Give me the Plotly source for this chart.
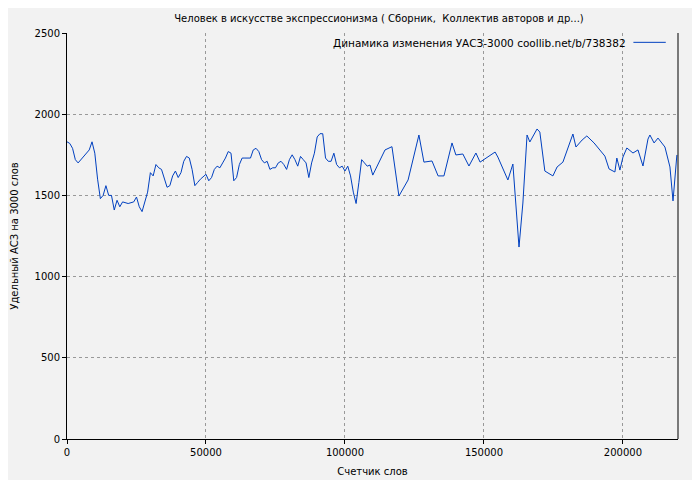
import plotly.graph_objects as go

# позиция в тысячах слов, значение УАСЗ
words_k = [0, 1, 2, 3, 4, 5, 6, 7, 8, 9, 10, 11, 12, 13, 14, 15, 16, 17, 18, 19, 20, 22, 24, 25, 26, 27, 28, 29,
           30, 31, 32, 33, 34, 35, 36, 37, 38, 39, 40, 41, 42, 43, 44, 45, 46, 47, 48, 50, 51, 52, 53, 54, 55, 56,
           57, 58, 59, 60, 61, 62, 63, 64, 66, 67, 68, 69, 70, 71, 72, 73, 74, 75, 76, 77, 78, 79, 80, 81, 82, 83,
           84, 85, 86, 87, 88, 89, 90, 91, 92, 93, 94, 95, 96, 97, 98, 99, 100, 101, 102, 103, 104, 105, 106, 107,
           108, 109,
           110, 114.4, 116.9, 119.4, 122.7, 126.6, 128.4, 131.3, 133.5, 135.6, 138.5, 139.9, 142.4, 144.6, 147.1,
           148.6, 154, 155, 158.6, 160.4, 162.6, 164, 165.5, 166.5, 169.1, 170.1, 171.9, 174.8, 176.3, 178.4, 180.2,
           182, 183.1, 185.3, 187, 189.6, 193.5, 195, 197.1, 197.8, 198.9, 200, 201.4, 203.6, 205.4, 207.2, 209,
           209.7, 211.2, 212.6, 215.1, 216.9, 218, 219.4]
uasz = [1830, 1820, 1790, 1720, 1700, 1720, 1740, 1760, 1780, 1830, 1760, 1600, 1480, 1500, 1560, 1500, 1500,
        1410, 1470, 1430, 1460, 1450, 1460, 1490, 1430, 1400, 1460, 1520, 1640, 1620, 1690, 1670, 1660, 1600, 1550,
        1560, 1620, 1650, 1610, 1640, 1710, 1740, 1730, 1660, 1560, 1580, 1600, 1630, 1590, 1610, 1660, 1680, 1670,
        1700, 1730, 1770, 1760, 1590, 1610, 1690, 1730, 1730, 1730, 1780, 1790, 1770, 1720, 1700, 1710, 1660, 1670,
        1670, 1700, 1710, 1690, 1660, 1720, 1750, 1720, 1680, 1740, 1720, 1700, 1610, 1700, 1760, 1860, 1880, 1880,
        1730, 1710, 1710, 1760, 1690, 1670, 1680, 1650, 1680, 1620, 1520, 1450, 1580, 1720, 1700, 1680, 1687,
        1625, 1780, 1800, 1496, 1595, 1872, 1705, 1712, 1620, 1620, 1823, 1749, 1755, 1681, 1761,
        1705, 1767, 1736, 1595, 1693, 1182, 1453, 1872, 1829, 1909, 1890, 1650, 1620, 1675, 1705, 1792,
        1878, 1798, 1841, 1866, 1823, 1742, 1663, 1644, 1730, 1656, 1736, 1792, 1761, 1780, 1681, 1847,
        1872, 1823, 1853, 1798, 1675, 1466, 1749]
x_ticks = [0, 50000, 100000, 150000, 200000]

x = [v * 1000 for v in words_k]

fig = go.Figure()
fig.add_trace(go.Scatter(x=x, y=uasz, mode='lines', line=dict(color='#0040c0', width=1), showlegend=False))

grid = dict(showgrid=True, gridcolor='#999999', griddash='dot', gridwidth=1, zeroline=False, automargin=False,
            showline=True, linecolor='black', linewidth=1, ticks='outside', ticklen=4, tickcolor='black',
            tickfont=dict(size=10), title_font=dict(size=10))
fig.update_xaxes(range=[0, 219800], tickvals=x_ticks, ticktext=[str(v) for v in x_ticks],
                 title_text='Счетчик слов', title_standoff=10, **grid)
fig.update_yaxes(range=[0, 2500], dtick=500, title_text='Удельный АСЗ на 3000 слов', title_standoff=14, **grid)

fig.add_annotation(text='Динамика изменения УАСЗ-3000 coollib.net/b/738382', xref='paper', yref='paper',
                   x=0.918, y=0.995, xanchor='right', yanchor='top', showarrow=False, font=dict(size=10.5, color='black'))
fig.add_shape(type='line', xref='paper', yref='paper', x0=0.927, x1=0.98, y0=0.977, y1=0.977,
              line=dict(color='#0040c0', width=1))
fig.add_shape(type='line', xref='paper', yref='paper', x0=1, x1=1, y0=0, y1=1, line=dict(color='black', width=1))

fig.update_layout(
    width=700, height=480,
    title=dict(text='Человек в искусстве экспрессионизма ( Сборник,  Коллектив авторов и др...)', x=0.53, y=0.985,
               font=dict(size=10, color='black')),
    font=dict(family='DejaVu Sans', size=10, color='black'),
    paper_bgcolor='#f2f2f2', plot_bgcolor='#f2f2f2',
    margin=dict(l=59, r=30, t=25, b=49),
)
fig.write_html('out.html')
